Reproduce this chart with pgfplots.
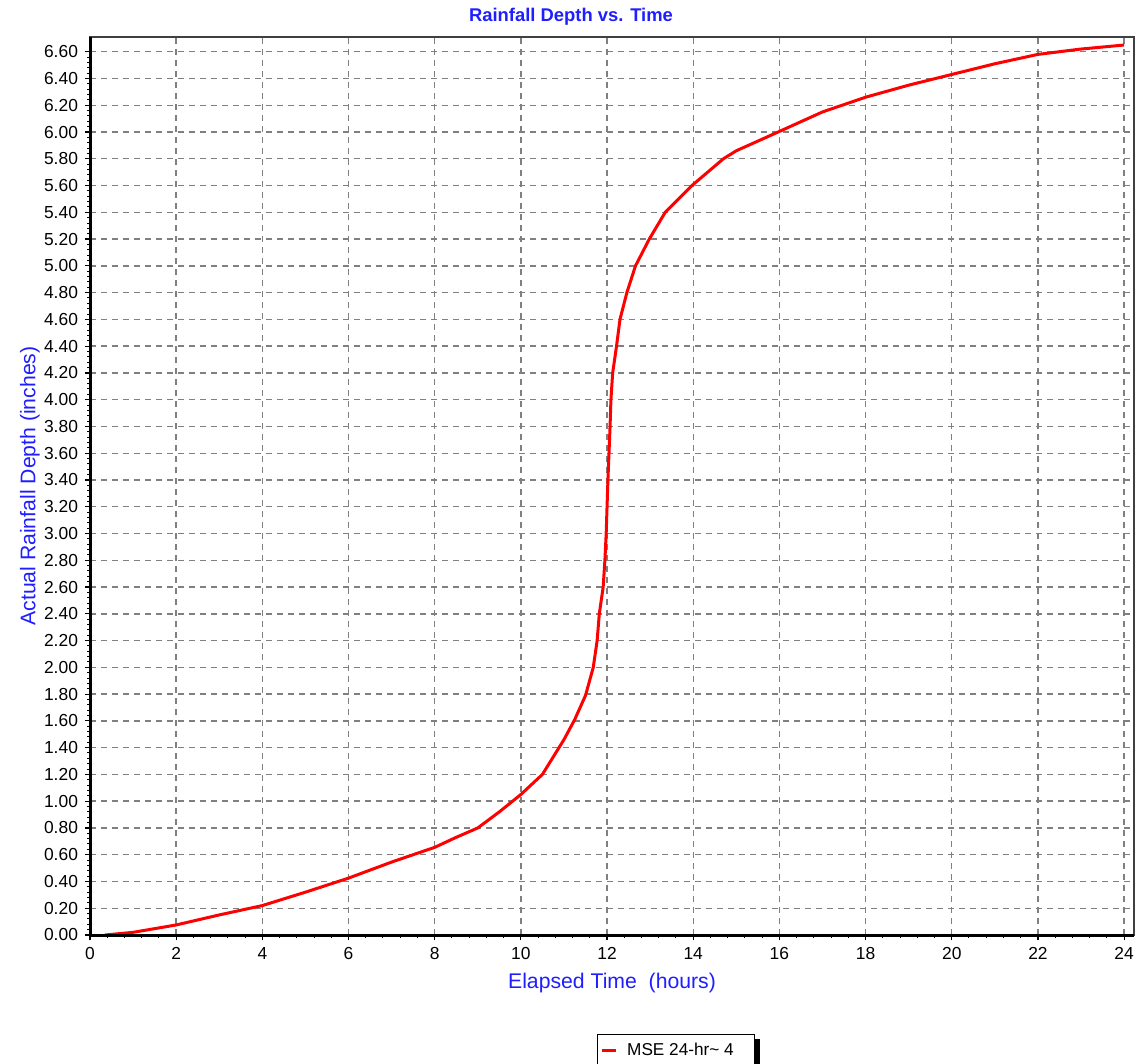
\documentclass[border=0pt]{standalone}
\usepackage{pgfplots}
\pgfplotsset{compat=1.18}
\usepackage{fontspec}
\setmainfont{Liberation Sans}
\definecolor{gridgray}{RGB}{128,128,128}
\definecolor{boxgray}{RGB}{64,64,64}
\definecolor{lblblue}{RGB}{30,30,255}
\begin{document}
\begin{tikzpicture}
\begin{axis}[
  name=ax,
  scale only axis,
  width=522pt, height=449pt,
  xmin=0, xmax=24.23, ymin=0, ymax=6.71,
  xtick={0,2,...,24},
  ytick={0,0.2,...,6.61},
  minor x tick num=4,
  minor y tick num=4,
  xtick pos=bottom, ytick pos=left,
  tick align=outside,
  major tick length=2.5pt,
  minor tick length=1.5pt,
  tick style={black, line width=0.6pt},
  minor tick style={black, line width=0.5pt},
  grid=major,
  major grid style={gridgray, line width=0.7pt, dash pattern=on 3pt off 2.5pt},
  axis line style={boxgray, line width=1pt},
  /pgf/number format/assume math mode=true,
  yticklabel style={/pgf/number format/fixed, /pgf/number format/precision=2, /pgf/number format/fixed zerofill, font=\fontsize{8.7pt}{10pt}\selectfont},
  xticklabel style={font=\fontsize{8.7pt}{10pt}\selectfont},
  every axis title shift=0pt,
  title={Rainfall Depth vs. Time},
  title style={at={(axis description cs:0.4607,1.0223)}, anchor=center, font=\fontsize{9.2pt}{11pt}\selectfont\bfseries, text=lblblue},
  xlabel={Elapsed Time\ \ (hours)},
  xlabel style={at={(axis description cs:0.5,-0.0535)}, anchor=center, font=\fontsize{10.6pt}{12pt}\selectfont, text=lblblue},
  ylabel={Actual Rainfall Depth (inches)},
  ylabel style={at={(axis description cs:-0.0575,0.5)}, anchor=center, font=\fontsize{10.6pt}{12pt}\selectfont, text=lblblue},
  legend style={at={(axis description cs:0.561,-0.1102)}, anchor=north, draw=black, line width=0.6pt, fill=white,
    font=\fontsize{8.6pt}{10pt}\selectfont, inner xsep=1.5pt, inner ysep=2pt, legend cell align=left},
  legend image code/.code={\draw[red, line width=1.5pt] (0pt,0pt) -- (7pt,0pt);},
  clip=false,
]
\fill[black] (axis description cs:0.4914,-0.1158) rectangle (axis description cs:0.6418,-0.17);
\addplot[red, line width=1.5pt] coordinates {
(0.35,0.00) (1,0.02) (2,0.075) (3,0.15) (4,0.22) (5,0.32) (6,0.425) (7,0.545)
(8,0.655) (8.5,0.73) (9,0.80) (9.5,0.92) (10,1.05) (10.5,1.20) (10.75,1.33)
(11,1.46) (11.25,1.61) (11.5,1.79) (11.68,2.00) (11.77,2.20) (11.82,2.40)
(11.91,2.60) (11.95,2.80) (11.98,3.00) (12.02,3.40) (12.07,3.80) (12.09,4.00)
(12.13,4.20) (12.22,4.40) (12.30,4.60) (12.46,4.80) (12.66,5.00) (12.98,5.20)
(13.35,5.40) (13.97,5.60) (14.7,5.80) (15.0,5.86) (15.97,6.00) (17,6.15)
(18,6.26) (19,6.35) (20,6.43) (21,6.51) (22,6.58) (23,6.62) (24,6.65)
};
\addlegendentry{\hspace{3pt}\makebox[60pt][l]{MSE 24-hr\textasciitilde{} 4}}
\draw[black, line width=1.5pt] (rel axis cs:0,1) -- (rel axis cs:0,0) -- (rel axis cs:1,0);
\end{axis}
\pgfresetboundingbox
\path[use as bounding box] ([shift={(-45pt,-64.5pt)}]ax.south west) rectangle ([shift={(2.5pt,18.5pt)}]ax.north east);
\end{tikzpicture}
\end{document}
